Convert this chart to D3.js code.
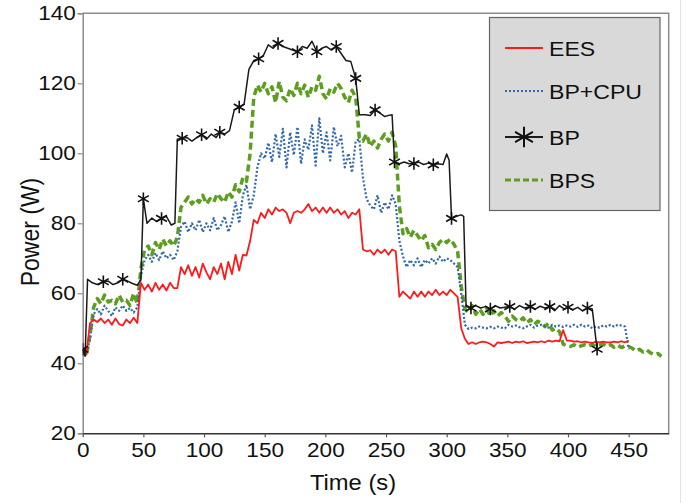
<!DOCTYPE html>
<html>
<head>
<meta charset="utf-8">
<script src="https://cdn.jsdelivr.net/npm/d3@7"></script>
<style>
  body { margin: 0; background: #fff; }
  text { font-family: "Liberation Sans", Arial, sans-serif; fill: #111; }
</style>
</head>
<body>
<div id="chart"></div>
<script>
// series names, in legend order
const seriesNames = ["EES", "BP+CPU", "BP", "BPS"];

// x axis ticks (s) and y axis ticks (W)
const xTicks = [0, 50, 100, 150, 200, 250, 300, 350, 400, 450];
const yTicks = [20, 40, 60, 80, 100, 120, 140];

// EES: one reading every 3 s starting at 0 s
const eesStep = 3;
const eesPower = [
  44, 42.5, 51.5, 52.5, 51.8, 52.8, 51.5, 52.5, 51, 52.8, 51.2, 50.8, 52.5, 51.5, 53, 51.5,
  63, 61, 62.5, 60.5, 63, 61, 62.5, 60.8, 63, 61.5, 61.5,
  67.5, 65.5, 68, 65, 67.5, 64.5, 68.5, 66, 64, 67.5, 65.5, 68.5, 64, 69, 65.5, 71, 66.5, 71, 70.8, 75,
  81, 80, 83, 81.5, 84, 82.5, 84.5, 83.5, 84, 83, 80, 83, 83.5, 83, 84, 85.5, 83.5, 84.5, 83, 84.5,
  83, 84.5, 83, 84, 82.5, 83.5, 81.5, 83, 82.5, 84,
  72.5, 72, 72.3, 71, 72.5, 71.5, 72.5, 71, 72.5, 72,
  59, 60.5, 59.5, 58.5, 60.5, 59, 60.5, 59, 60.5, 59.5, 61, 59.5, 60.5, 59.5, 61, 60, 59,
  50, 47, 45.5, 46, 45.5, 46, 46.2, 46, 45.5, 44.8, 46, 45.8, 46, 46.2, 45.8, 46.2, 46, 46.3, 45.8,
  46, 46.2, 46, 46.3, 46, 46.5, 46.2, 46.5, 46.3, 49.5, 46.5, 46.5, 46.2, 46.3, 46, 46.2, 46, 45.8,
  46.2, 46, 46.2, 46, 46, 46.2, 46, 46.3, 46, 46.5
];

// BP+CPU: one reading every 3 s starting at 0 s
const cpuStep = 3;
const cpuPower = [
  44, 42.5, 47, 54, 55.5, 54, 56.5, 55, 53.5, 56, 55, 56.5, 55, 55.8, 54.5, 56,
  65, 69.5, 71, 69, 71.5, 69.5, 72, 70, 71, 69.5, 72,
  79, 80.5, 77.5, 80, 78, 81, 77.5, 80, 78, 81.5, 78, 79.5, 82, 77.5, 80.5, 86, 80, 88, 91, 84, 88,
  96, 100, 98.5, 103, 97.5, 105.5, 99, 107, 96, 106, 99.5, 107.5, 97, 104, 101, 108, 96.5, 110,
  100, 106, 98, 107.5, 102, 105, 96, 100, 94.5, 103.5, 104,
  93, 87, 85, 84, 88, 83, 86, 84, 88, 85.5,
  75, 70.5, 67.5, 69.5, 68, 70, 67.5, 69.5, 68.5, 70, 68.5, 70.5, 69, 70, 69.5, 68.5, 67.5,
  60, 51, 49.8, 50.2, 50, 50.5, 50.2, 50, 50.4, 50, 50.5, 50.2, 50, 51, 50.5, 50.8, 50.3, 50,
  50.5, 51, 50.2, 50.8, 51, 50.5, 50.2, 51, 50.5, 50.8, 50.4, 50.8, 50.5, 51, 50.4, 51, 50.5,
  50.8, 50, 50.5, 50.2, 50.8, 50.5, 51, 50.5, 51, 50.8, 50.5, 44
];

// BPS: one reading every 3 s starting at 0 s
const bpsStep = 3;
const bpsPower = [
  44, 42, 48, 56, 58.5, 57, 59.5, 57.5, 58, 57, 59.5, 57.5, 58, 56.5, 60, 57,
  67, 72.5, 73.5, 71, 74.5, 72.5, 75.5, 73.5, 75, 73.5, 76,
  84.5, 86, 87.5, 85.5, 87, 86, 88, 85.5, 87, 86, 88.5, 87, 86, 89, 87.5, 91, 89, 93, 92, 100,
  116, 119.5, 117.5, 120, 117, 119, 114.5, 120.5, 116, 115, 118.5, 116.5, 120, 117, 119.5, 116,
  119, 118, 122, 117, 115.5, 118.5, 117.5, 120, 118.5, 116, 114.5, 118, 116,
  104.5, 103.5, 105.5, 102, 103.5, 101.5, 104, 105.5, 103.5, 106, 102,
  85, 77, 78.5, 76, 78, 76.5, 75, 76.5, 73, 74, 72.5, 74.5, 75.5, 74.5, 75.5, 74, 72,
  62, 55.5, 54.5, 56.5, 54, 55.5, 54, 55.5, 53.5, 55, 53.5, 54.5, 53.5, 52, 53.5, 52.5, 52, 53,
  51.5, 52.5, 51, 52, 51.5, 50.5, 51.5, 49.5, 50, 49,
  45.5, 45, 44.8, 45.3, 44.6, 45, 45.3, 44.8, 45.4, 44.8, 45.2, 45.5, 44.8, 45.3, 44.6, 45.2,
  44.5, 45, 44.8, 44.3, 43.5, 44, 43.2, 43.8, 43, 42.5, 42.8, 42
];

// BP: readings at irregular times, asterisk markers at some of them
const bpTime = [
  0, 2, 4, 8, 12, 17, 21, 25, 29, 33, 37, 41, 45, 48, 50, 53, 57, 61, 65, 69, 73, 76, 78,
  82, 86, 90, 94, 98, 102, 106, 110, 113, 117, 121, 125, 129, 133, 137, 141, 145, 149, 153,
  157, 161, 165, 169, 173, 177, 181, 185, 189, 193, 197, 201, 205, 209, 213, 217, 221, 225,
  228, 233, 237, 241, 245, 249, 253, 255, 257, 261, 265, 269, 273, 277, 281, 285, 289, 293,
  297, 300, 302, 304, 308, 312, 314, 316, 320, 324, 328, 332, 336, 340, 344, 348, 352, 356,
  360, 364, 369, 373, 377, 381, 385, 389, 393, 397, 400, 404, 408, 412, 416, 420, 424
];
const bpPower = [
  44, 42, 64, 63, 62.5, 63.3, 63.5, 62.5, 63, 64, 63.5, 62.8, 62.3, 64, 87, 80, 81.5, 80.5,
  81.4, 82, 79.5, 80, 104,
  104.3, 104.5, 103.5, 104.5, 105.3, 104, 105.5, 104.5, 106, 105.5, 106.5, 112.5, 113.2, 114,
  124, 126.5, 127, 128, 131, 130, 131.4, 130.5, 130, 129.5, 129, 130.5, 130, 132, 129, 130,
  130.5, 129.5, 130.5, 128.5, 126.5, 126.2, 121.4,
  111, 111, 110.8, 112.4, 111.5, 110.5, 110.9, 111, 97.5, 97, 97.5, 97, 97.1, 97.5, 96.8,
  97.2, 96.7, 97, 96.8, 99.8, 98, 81.4, 82, 82.4, 82, 56.2, 55.8, 56.5, 55.8, 56.2, 55.5,
  56.5, 55.8, 56, 56.2, 55.5, 56.5, 55.8, 56.2, 55.5, 56.3, 55.8, 56.2, 55, 56.5, 55.5, 56,
  55.3, 56, 55, 55.8, 55.5, 44
];
const bpMarkTime = [
  0, 17, 33, 50, 65, 82, 98, 113, 129, 145, 161, 177, 193, 209, 225, 241, 257, 273, 289,
  304, 320, 336, 352, 369, 385, 400, 416, 424
];

const width = 686, height = 503;
const margin = {left: 82.7, right: 17.3, top: 13.3, bottom: 69.7};
// the source picture is a bit wider than tall, so glyphs look stretched sideways
const stretch = 1.13;

const svg = d3.select("#chart").append("svg")
  .attr("width", width)
  .attr("height", height);

svg.append("rect").attr("width", width).attr("height", height).attr("fill", "#fff");

// faint page edge on the right
svg.append("line")
  .attr("x1", 680.5).attr("x2", 680.5).attr("y1", 0).attr("y2", height)
  .attr("stroke", "#e2e2e2").attr("stroke-width", 1);

const x = d3.scaleLinear().domain([0, 483]).range([margin.left, width - margin.right]);
const y = d3.scaleLinear().domain([20, 140]).range([height - margin.bottom, margin.top]);

// plot frame: top and right borders
svg.append("path")
  .attr("d", `M${x(0)},${y(140)}H${x(483)}V${y(20)}`)
  .attr("fill", "none").attr("stroke", "#8c8c8c").attr("stroke-width", 1.5);

// y axis
const yAxis = svg.append("g")
  .attr("transform", `translate(${x(0)},0)`)
  .call(d3.axisLeft(y).tickValues(yTicks).tickSize(5).tickPadding(1));
yAxis.select(".domain").attr("stroke", "#8c8c8c").attr("stroke-width", 1.5);
yAxis.selectAll(".tick line").attr("stroke", "#8c8c8c").attr("stroke-width", 1.2);
yAxis.selectAll("text")
  .style("font-size", "20px").attr("fill", "#111")
  .attr("transform", `scale(${stretch},1)`);

// x axis
const xAxis = svg.append("g")
  .attr("transform", `translate(0,${y(20)})`)
  .call(d3.axisBottom(x).tickValues(xTicks).tickSize(4).tickPadding(6).tickSizeOuter(0));
xAxis.select(".domain").attr("stroke", "#333").attr("stroke-width", 1.5);
xAxis.selectAll(".tick line").attr("stroke", "#555").attr("stroke-width", 1.2);
xAxis.selectAll("text")
  .style("font-size", "20px").attr("fill", "#111")
  .attr("transform", `scale(${stretch},1)`);

// axis titles
svg.append("text")
  .attr("transform", `translate(353,490) scale(1.08,1)`)
  .attr("text-anchor", "middle").style("font-size", "22px")
  .text("Time (s)");
svg.append("text")
  .attr("transform", `translate(39,232) scale(1.12,1) rotate(-90)`)
  .attr("text-anchor", "middle").style("font-size", "23px")
  .text("Power (W)");

svg.append("clipPath").attr("id", "plotclip")
  .append("rect")
  .attr("x", x(0)).attr("y", y(140))
  .attr("width", x(483) - x(0)).attr("height", y(20) - y(140));

const plot = svg.append("g").attr("clip-path", "url(#plotclip)");

const line = d3.line().x(d => x(d[0])).y(d => y(d[1]));

const eesData = eesPower.map((v, i) => [i * eesStep, v]);
const cpuData = cpuPower.map((v, i) => [i * cpuStep, v]);
const bpsData = bpsPower.map((v, i) => [i * bpsStep, v]);
const bpData = bpTime.map((t, i) => [t, bpPower[i]]);

const styles = {
  "EES":    {stroke: "#ff1a1a", width: 1.8, dash: null},
  "BP+CPU": {stroke: "#3268a8", width: 2.2, dash: "2,2"},
  "BP":     {stroke: "#1a1a1a", width: 1.5, dash: null},
  "BPS":    {stroke: "#5c9e1e", width: 3.5, dash: "7,4"}
};

function drawSeries(data, name) {
  const s = styles[name];
  plot.append("path")
    .datum(data)
    .attr("d", line)
    .attr("fill", "none")
    .attr("stroke", s.stroke)
    .attr("stroke-width", s.width)
    .attr("stroke-dasharray", s.dash)
    .attr("stroke-linejoin", "round");
}

drawSeries(bpsData, "BPS");
drawSeries(cpuData, "BP+CPU");
drawSeries(eesData, "EES");
drawSeries(bpData, "BP");

// asterisk markers on BP
const star = d3.symbol().type(d3.symbolAsterisk).size(110);
plot.selectAll(".bpmark")
  .data(bpData.filter(d => bpMarkTime.includes(d[0])))
  .enter()
  .append("path")
  .attr("class", "bpmark")
  .attr("d", star)
  .attr("transform", d => `translate(${x(d[0])},${y(d[1])})`)
  .attr("fill", "none")
  .attr("stroke", "#111")
  .attr("stroke-width", 1.6);

// legend
const legend = svg.append("g");
legend.append("rect")
  .attr("x", 489.5).attr("y", 17.5).attr("width", 170.5).attr("height", 193)
  .attr("fill", "#d9d9d9").attr("stroke", "#666").attr("stroke-width", 1.2);

const legendY = [48, 91, 137, 180];
seriesNames.forEach((name, i) => {
  const s = styles[name];
  const g = legend.append("g").attr("transform", `translate(0,${legendY[i]})`);
  g.append("line")
    .attr("x1", 505).attr("x2", 543).attr("y1", 0).attr("y2", 0)
    .attr("stroke", s.stroke)
    .attr("stroke-width", name === "BPS" ? 3 : (name === "BP+CPU" ? 2 : 1.8))
    .attr("stroke-dasharray", name === "BPS" ? "6,3" : s.dash);
  if (name === "BP") {
    g.append("path")
      .attr("d", d3.symbol().type(d3.symbolAsterisk).size(300)())
      .attr("transform", "translate(524,0)")
      .attr("fill", "none").attr("stroke", "#111").attr("stroke-width", 2);
  }
  g.append("text")
    .attr("transform", "translate(549,7.6) scale(1.1,1)")
    .style("font-size", "21px")
    .text(name);
});
</script>
</body>
</html>
